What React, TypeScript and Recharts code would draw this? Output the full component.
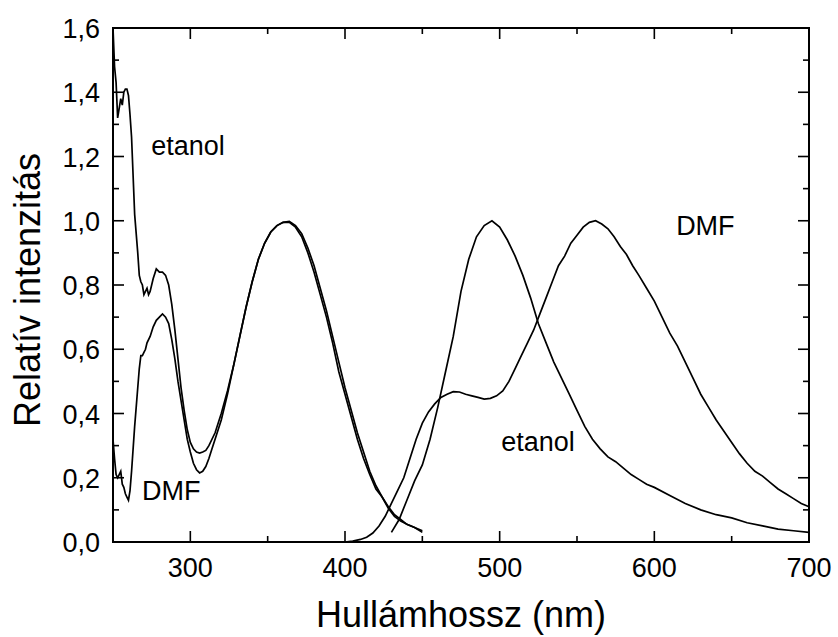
import React from 'react';
import { LineChart, Line, XAxis, YAxis, ReferenceDot, ReferenceArea } from 'recharts';

const FONT = '"Liberation Sans", Arial, Helvetica, sans-serif';

// absorption spectra [nm, relative intensity]
const absEtanol: number[][] = [
    [250, 1.6], [251, 1.48], [252, 1.43], [253, 1.32], [254, 1.35], [255, 1.38], [256, 1.36],
    [257, 1.4], [258, 1.41], [259, 1.41], [260, 1.39], [261, 1.33], [262, 1.26], [263, 1.14],
    [264, 1.02], [265, 0.96], [266, 0.9], [267, 0.83], [268, 0.81], [269, 0.8], [270, 0.77],
    [271, 0.78], [272, 0.79], [273, 0.77], [274, 0.78], [276, 0.82], [278, 0.85], [280, 0.84],
    [282, 0.84], [284, 0.83], [286, 0.8], [288, 0.74], [290, 0.66], [292, 0.57], [294, 0.48],
    [296, 0.41], [298, 0.35], [300, 0.31], [302, 0.29], [304, 0.28], [306, 0.277], [308, 0.28],
    [310, 0.285], [312, 0.3], [316, 0.34], [320, 0.4], [324, 0.47], [328, 0.55], [332, 0.64],
    [336, 0.73], [340, 0.81], [344, 0.88], [348, 0.93], [352, 0.965], [356, 0.985], [360, 0.995],
    [364, 0.995], [368, 0.98], [372, 0.95], [376, 0.9], [380, 0.84], [384, 0.77], [388, 0.7],
    [392, 0.62], [396, 0.53], [400, 0.46], [404, 0.39], [408, 0.32], [412, 0.26], [416, 0.21],
    [420, 0.165], [424, 0.14], [428, 0.105], [432, 0.08], [436, 0.065], [440, 0.055], [445, 0.045],
    [450, 0.035],
];

const absDMF: number[][] = [
    [250, 0.32], [251, 0.26], [252, 0.21], [253, 0.2], [254, 0.21], [255, 0.22], [256, 0.18],
    [257, 0.17], [258, 0.15], [259, 0.14], [260, 0.13], [261, 0.16], [262, 0.22], [263, 0.29],
    [264, 0.36], [265, 0.42], [266, 0.48], [267, 0.54], [268, 0.58], [269, 0.58], [270, 0.59],
    [271, 0.6], [272, 0.62], [274, 0.64], [276, 0.67], [278, 0.69], [280, 0.7], [282, 0.71],
    [284, 0.7], [286, 0.68], [288, 0.63], [290, 0.57], [292, 0.5], [294, 0.44], [296, 0.38],
    [298, 0.32], [300, 0.28], [302, 0.245], [304, 0.225], [306, 0.215], [308, 0.22], [310, 0.235],
    [312, 0.26], [314, 0.29], [316, 0.32], [320, 0.38], [324, 0.46], [328, 0.55], [332, 0.64],
    [336, 0.73], [340, 0.81], [344, 0.88], [348, 0.93], [352, 0.965], [356, 0.985], [360, 0.995],
    [364, 0.998], [368, 0.985], [372, 0.96], [376, 0.915], [380, 0.86], [384, 0.79], [388, 0.72],
    [392, 0.64], [396, 0.56], [400, 0.48], [404, 0.41], [408, 0.34], [412, 0.28], [416, 0.22],
    [420, 0.175], [424, 0.14], [428, 0.11], [432, 0.085], [436, 0.07], [440, 0.055], [445, 0.045],
    [450, 0.03],
];

// emission spectra
const emEtanol: number[][] = [
    [430, 0.03], [435, 0.07], [440, 0.13], [445, 0.19], [450, 0.24], [455, 0.32], [460, 0.42],
    [465, 0.53], [470, 0.64], [475, 0.78], [480, 0.88], [485, 0.95], [490, 0.985], [495, 1.0],
    [500, 0.98], [505, 0.94], [510, 0.89], [515, 0.83], [520, 0.76], [525, 0.68], [530, 0.62],
    [535, 0.56], [540, 0.51], [545, 0.46], [550, 0.41], [555, 0.36], [560, 0.32], [565, 0.29],
    [570, 0.265], [575, 0.25], [580, 0.23], [585, 0.21], [590, 0.195], [595, 0.18], [600, 0.17],
    [610, 0.145], [620, 0.12], [630, 0.1], [640, 0.085], [650, 0.075], [660, 0.06], [670, 0.05],
    [680, 0.04], [690, 0.035], [700, 0.03],
];

const emDMF: number[][] = [
    [400, 0.0], [405, 0.003], [410, 0.008], [414, 0.015], [418, 0.028], [422, 0.05], [426, 0.08],
    [430, 0.12], [434, 0.16], [438, 0.2], [442, 0.26], [446, 0.32], [450, 0.37], [454, 0.405],
    [458, 0.43], [462, 0.45], [466, 0.46], [470, 0.468], [474, 0.467], [478, 0.46], [482, 0.455],
    [486, 0.45], [490, 0.445], [494, 0.447], [498, 0.455], [502, 0.47], [506, 0.5], [510, 0.54],
    [514, 0.58], [518, 0.62], [522, 0.66], [526, 0.71], [530, 0.76], [534, 0.81], [538, 0.86],
    [542, 0.89], [546, 0.93], [550, 0.955], [554, 0.98], [558, 0.995], [562, 1.0], [566, 0.99],
    [570, 0.975], [574, 0.95], [578, 0.92], [582, 0.895], [586, 0.86], [590, 0.83], [595, 0.79],
    [600, 0.75], [605, 0.7], [610, 0.65], [615, 0.61], [620, 0.56], [625, 0.51], [630, 0.46],
    [635, 0.42], [640, 0.38], [645, 0.345], [650, 0.31], [655, 0.275], [660, 0.245], [665, 0.22],
    [670, 0.205], [675, 0.185], [680, 0.165], [685, 0.15], [690, 0.135], [695, 0.12], [700, 0.11],
];

const X_MIN = 250;
const X_MAX = 700;
const Y_MIN = 0;
const Y_MAX = 1.6;
const xTicks = [300, 350, 400, 450, 500, 550, 600, 650, 700];
const yTicks = [0, 0.1, 0.2, 0.3, 0.4, 0.5, 0.6, 0.7, 0.8, 0.9, 1.0, 1.1, 1.2, 1.3, 1.4, 1.5, 1.6];

// curve annotations: [text, nm, intensity]
const notes: [string, number, number][] = [
    ['etanol', 298.5, 1.233],
    ['DMF', 287.6, 0.162],
    ['etanol', 524.8, 0.314],
    ['DMF', 633, 0.987],
];

const toPts = (arr: number[][]) => arr.map(([x, y]) => ({ x, y }));

const W = 838;
const H = 637;
const MARGIN = { top: 28, right: 29, bottom: 55, left: 53 };
const Y_AXIS_W = 60;
const X_AXIS_H = 40;
const PLOT_W = W - MARGIN.left - MARGIN.right - Y_AXIS_W;
const PLOT_H = H - MARGIN.top - MARGIN.bottom - X_AXIS_H;
// pixel -> data unit factors, used only to size the tick marks
const NM_PER_PX = (X_MAX - X_MIN) / PLOT_W;
const Y_PER_PX = (Y_MAX - Y_MIN) / PLOT_H;

const TM = 10;
const MAJ = 11;
const MIN = 6;
const TW = 1.6; // tick thickness in px
const isMajorY = (v: number) => Math.round(v * 10) % 2 === 0;
const isMajorX = (v: number) => v % 100 === 0;

function LeftTick(p: any) {
    const { x, y, payload } = p;
    const v = payload.value;
    if (!isMajorY(v)) return <g />;
    return (
        <text x={x - 3} y={y + 10} textAnchor="end" fontSize={27} fontFamily={FONT} fill="#000">
            {v.toFixed(1).replace('.', ',')}
        </text>
    );
}

function BottomTick(p: any) {
    const { x, y, payload } = p;
    const v = payload.value;
    if (!isMajorX(v)) return <g />;
    return (
        <text x={x} y={y + 25} textAnchor="middle" fontSize={27} fontFamily={FONT} fill="#000">
            {v}
        </text>
    );
}

const tickFill = { fill: '#000', fillOpacity: 1, stroke: 'none', ifOverflow: 'visible' as const };

export default function App() {
    const series = [absEtanol, absDMF, emEtanol, emDMF];
    const hy = (TW / 2) * Y_PER_PX;
    const hx = (TW / 2) * NM_PER_PX;
    return (
        <div style={{ position: 'absolute', left: 0, top: 0, width: W, height: H, background: '#fff' }}>
            <LineChart width={W} height={H} margin={MARGIN}>
                <XAxis
                    dataKey="x"
                    type="number"
                    domain={[X_MIN, X_MAX]}
                    ticks={xTicks}
                    interval={0}
                    height={X_AXIS_H}
                    tickSize={0}
                    tickMargin={TM}
                    tickLine={false}
                    axisLine={false}
                    tick={(p: any) => <BottomTick {...p} />}
                    label={{
                        content: (lp: any) => {
                            const vb = lp.viewBox || {};
                            return (
                                <text x={vb.x + vb.width / 2} y={627} textAnchor="middle" fontSize={36} fontFamily={FONT} fill="#000">
                                    Hullámhossz (nm)
                                </text>
                            );
                        },
                    }}
                />
                <YAxis
                    type="number"
                    domain={[Y_MIN, Y_MAX]}
                    ticks={yTicks}
                    interval={0}
                    width={Y_AXIS_W}
                    tickSize={0}
                    tickMargin={TM}
                    tickLine={false}
                    axisLine={false}
                    tick={(p: any) => <LeftTick {...p} />}
                    label={{
                        content: (lp: any) => {
                            const vb = lp.viewBox || {};
                            const cy = vb.y + vb.height / 2 + 5;
                            return (
                                <text x={40} y={cy} transform={`rotate(-90 40 ${cy})`} textAnchor="middle" fontSize={36} fontFamily={FONT} fill="#000">
                                    Relatív intenzitás
                                </text>
                            );
                        },
                    }}
                />
                {/* plot frame */}
                <ReferenceArea
                    x1={X_MIN}
                    x2={X_MAX}
                    y1={Y_MIN}
                    y2={Y_MAX}
                    fill="none"
                    fillOpacity={0}
                    stroke="#000"
                    strokeWidth={2}
                    strokeOpacity={1}
                    ifOverflow="visible"
                />
                {/* inward ticks on the four frame sides */}
                {yTicks.slice(1, -1).map((v) => {
                    const len = (isMajorY(v) ? MAJ : MIN) * NM_PER_PX;
                    return (
                        <React.Fragment key={'y' + v}>
                            <ReferenceArea x1={X_MIN} x2={X_MIN + len} y1={v - hy} y2={v + hy} {...tickFill} />
                            <ReferenceArea x1={X_MAX - len} x2={X_MAX} y1={v - hy} y2={v + hy} {...tickFill} />
                        </React.Fragment>
                    );
                })}
                {xTicks.slice(0, -1).map((v) => {
                    const len = (isMajorX(v) ? MAJ : MIN) * Y_PER_PX;
                    return (
                        <React.Fragment key={'x' + v}>
                            <ReferenceArea x1={v - hx} x2={v + hx} y1={Y_MIN} y2={Y_MIN + len} {...tickFill} />
                            <ReferenceArea x1={v - hx} x2={v + hx} y1={Y_MAX - len} y2={Y_MAX} {...tickFill} />
                        </React.Fragment>
                    );
                })}
                {series.map((s, i) => (
                    <Line
                        key={i}
                        data={toPts(s)}
                        dataKey="y"
                        type="linear"
                        stroke="#000"
                        strokeWidth={1.7}
                        dot={false}
                        activeDot={false}
                        isAnimationActive={false}
                    />
                ))}
                {notes.map(([t, x, y], i) => (
                    <ReferenceDot
                        key={'n' + i}
                        x={x}
                        y={y}
                        r={0}
                        fill="none"
                        stroke="none"
                        label={{ value: t, position: 'center', fontSize: 27, fontFamily: FONT, fill: '#000' }}
                    />
                ))}
            </LineChart>
        </div>
    );
}
